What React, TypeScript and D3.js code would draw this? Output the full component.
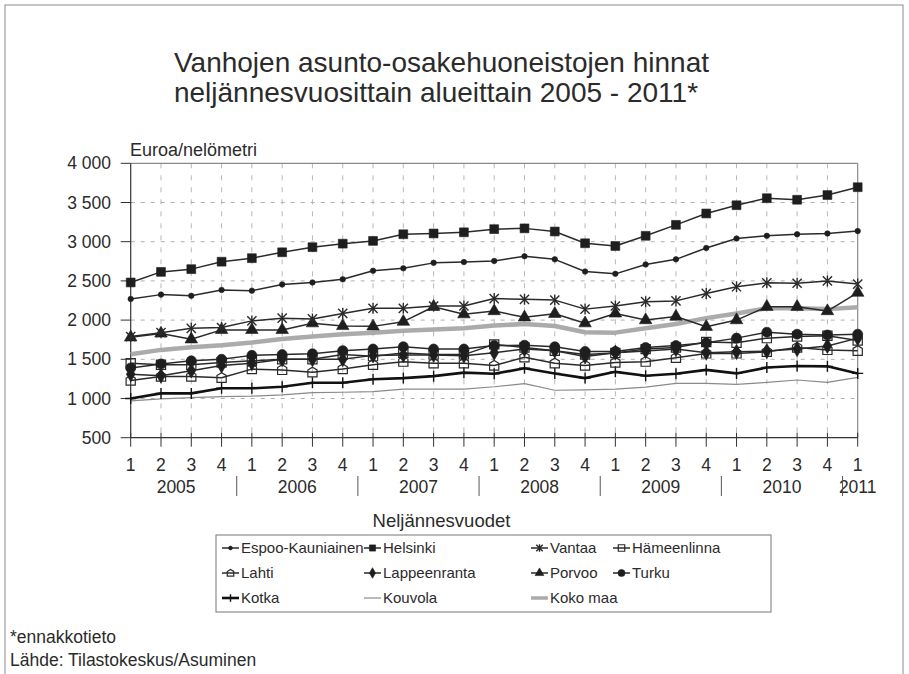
import React from "react";
import * as d3 from "d3";

// ---- data (euro / m², quarterly 2005Q1 .. 2011Q1) ----
const quarterLabels = ["1","2","3","4","1","2","3","4","1","2","3","4","1","2","3","4","1","2","3","4","1","2","3","4","1"];
const yearLabels = ["2005","2006","2007","2008","2009","2010","2011"];
const yTickValues = [500, 1000, 1500, 2000, 2500, 3000, 3500, 4000];

const espoo = [2270,2325,2310,2385,2375,2455,2480,2520,2630,2660,2730,2740,2755,2815,2775,2620,2590,2710,2775,2920,3040,3075,3095,3105,3135];
const helsinki = [2480,2615,2650,2745,2790,2865,2930,2975,3010,3095,3105,3120,3160,3170,3130,2980,2945,3075,3215,3360,3465,3555,3535,3595,3695];
const vantaa = [1790,1840,1895,1905,1990,2025,2015,2085,2150,2150,2180,2180,2275,2265,2255,2140,2180,2235,2245,2340,2425,2475,2470,2500,2460];
const hameenlinna = [1450,1430,1430,1460,1480,1500,1500,1560,1540,1580,1560,1560,1690,1650,1610,1560,1580,1630,1650,1720,1710,1770,1790,1800,1740];
const lahti = [1230,1280,1280,1265,1375,1365,1335,1375,1430,1470,1450,1450,1420,1525,1450,1420,1460,1470,1520,1575,1575,1595,1650,1620,1610];
const lappeenranta = [1310,1290,1355,1420,1450,1500,1500,1500,1550,1555,1555,1545,1585,1630,1610,1535,1585,1605,1630,1585,1595,1605,1630,1670,1770];
const porvoo = [1780,1830,1755,1875,1875,1875,1960,1925,1920,1980,2170,2075,2115,2035,2080,1960,2085,2000,2045,1915,2000,2170,2170,2115,2350];
const turku = [1390,1440,1480,1500,1550,1560,1570,1610,1630,1660,1630,1630,1675,1680,1660,1600,1600,1650,1675,1710,1770,1845,1820,1810,1820];
const kotka = [1000,1065,1065,1130,1130,1150,1200,1200,1245,1260,1285,1330,1315,1385,1320,1260,1340,1290,1315,1365,1320,1395,1415,1410,1320];
const kouvola = [970,995,1010,1025,1030,1045,1075,1080,1087,1120,1120,1120,1150,1190,1105,1110,1120,1145,1194,1194,1180,1205,1236,1205,1270];
const kokoMaa = [1565,1620,1655,1680,1715,1760,1790,1820,1840,1865,1880,1895,1930,1950,1925,1845,1840,1895,1950,2025,2085,2150,2150,2140,2165];

type Marker = "dot" | "square" | "star" | "openSquare" | "house" | "diamond" | "triangle" | "circle" | "plus" | "none";
interface Series { name: string; values: number[]; marker: Marker; stroke: string; width: number; }

const series: Series[] = [
  { name: "Espoo-Kauniainen", values: espoo, marker: "dot", stroke: "#2a2a2a", width: 1.5 },
  { name: "Helsinki", values: helsinki, marker: "square", stroke: "#2a2a2a", width: 1.5 },
  { name: "Vantaa", values: vantaa, marker: "star", stroke: "#2a2a2a", width: 1.5 },
  { name: "Hämeenlinna", values: hameenlinna, marker: "openSquare", stroke: "#2a2a2a", width: 1.5 },
  { name: "Lahti", values: lahti, marker: "house", stroke: "#2a2a2a", width: 1.5 },
  { name: "Lappeenranta", values: lappeenranta, marker: "diamond", stroke: "#2a2a2a", width: 1.5 },
  { name: "Porvoo", values: porvoo, marker: "triangle", stroke: "#2a2a2a", width: 1.5 },
  { name: "Turku", values: turku, marker: "circle", stroke: "#2a2a2a", width: 1.5 },
  { name: "Kotka", values: kotka, marker: "plus", stroke: "#111", width: 2.6 },
  { name: "Kouvola", values: kouvola, marker: "none", stroke: "#8a8a8a", width: 1.2 },
  { name: "Koko maa", values: kokoMaa, marker: "none", stroke: "#ababab", width: 4.5 },
];

const FONT = "'Liberation Sans', Arial, Helvetica, sans-serif";
const TEXT = "#2b2b2b";

const W = 909, H = 674;
const x = d3.scaleLinear().domain([0, 24]).range([130.7, 857.7]);
const y = d3.scaleLinear().domain([500, 4000]).range([437.7, 163.3]);
const fmt = d3.formatLocale({ thousands: " ", grouping: [3], decimal: ",", currency: ["", ""] }).format(",");

function markerPath(m: Marker, scale = 1): string | null {
  const s = scale;
  switch (m) {
    case "dot": return d3.symbol(d3.symbolCircle, 24 * s * s)();
    case "square": return d3.symbol(d3.symbolSquare, 78 * s * s)();
    case "openSquare": return d3.symbol(d3.symbolSquare, 85 * s * s)();
    case "diamond": return d3.symbol(d3.symbolDiamond, 66 * s * s)();
    case "triangle": return d3.symbol(d3.symbolTriangle, 68 * s * s)();
    case "circle": return d3.symbol(d3.symbolCircle, 80 * s * s)();
    case "star": {
      const r = 5.5 * s, d = 4.6 * s;
      return `M0,${-r}L0,${r}M${-d},${-d}L${d},${d}M${-d},${d}L${d},${-d}`;
    }
    case "house": {
      const a = 4.6 * s;
      return `M${-a},${-0.5 * a}L0,${-a * 1.1}L${a},${-0.5 * a}L${a},${a}L${-a},${a}Z`;
    }
    case "plus": {
      const r = 5.5 * s;
      return `M0,${-r}L0,${r}M${-r},0L${r},0`;
    }
    default: return null;
  }
}

function markerStyle(m: Marker, stroke: string) {
  if (m === "openSquare" || m === "house") return { fill: "none", stroke, strokeWidth: 1.2 };
  if (m === "star" || m === "plus") return { fill: "none", stroke, strokeWidth: 1.4 };
  return { fill: "#1e1e1e", stroke: "#1e1e1e", strokeWidth: 0.6 };
}

const line = d3.line<number>().x((_, i) => x(i)).y((v) => y(v));

export default function App() {
  const drawOrder = [10, 9, 8, 4, 3, 5, 7, 6, 2, 0, 1];
  const idx = d3.range(quarterLabels.length);
  const gridY = yTickValues.filter((v) => v > 500 && v < 4000);

  const legendCols = [222, 364, 531, 613];
  const legendRows = [548, 573, 598];

  return (
    <svg width={W} height={H} style={{ position: "absolute", left: 0, top: 0, display: "block", background: "#fff" }}
      fontFamily={FONT}>
      <rect x={5} y={5} width={898} height={700} fill="none" stroke="#8c8c8c" strokeWidth={1} />

      {/* title */}
      <text x={441.5} y={72} textAnchor="middle" fontSize={28} fill={TEXT}>Vanhojen asunto-osakehuoneistojen hinnat</text>
      <text x={436} y={102} textAnchor="middle" fontSize={28} fill={TEXT}>neljännesvuosittain alueittain 2005 - 2011*</text>

      {/* y axis title */}
      <text x={130} y={156} fontSize={18} fill={TEXT}>Euroa/nelömetri</text>

      {/* grid */}
      {gridY.map((v) => (
        <line key={"gy" + v} x1={x(0)} x2={x(24)} y1={y(v)} y2={y(v)} stroke="#b0b0b0" strokeWidth={1} strokeDasharray="4,6" />
      ))}
      {idx.slice(1, 24).map((i) => (
        <line key={"gx" + i} x1={x(i)} x2={x(i)} y1={y(4000)} y2={y(500)} stroke="#b8b8b8" strokeWidth={1} strokeDasharray="5,7" />
      ))}

      {/* plot frame */}
      <line x1={x(0)} x2={x(24)} y1={y(4000)} y2={y(4000)} stroke="#8a8a8a" strokeWidth={1.2} />
      <line x1={x(24)} x2={x(24)} y1={y(4000)} y2={y(500)} stroke="#8a8a8a" strokeWidth={1.2} />
      <line x1={x(0)} x2={x(0)} y1={y(4000)} y2={y(500)} stroke="#333" strokeWidth={1.2} />
      <line x1={x(0)} x2={x(24)} y1={y(500)} y2={y(500)} stroke="#333" strokeWidth={1.2} />

      {/* y ticks */}
      {yTickValues.map((v) => (
        <g key={"yt" + v}>
          <line x1={x(0) - 10} x2={x(0)} y1={y(v)} y2={y(v)} stroke="#333" strokeWidth={1} />
          <text x={111} y={y(v)} dy="0.35em" textAnchor="end" fontSize={17.5} fill={TEXT}>{fmt(v)}</text>
        </g>
      ))}

      {/* x ticks */}
      {idx.map((i) => (
        <g key={"xt" + i}>
          <line x1={x(i)} x2={x(i)} y1={y(500) - 5} y2={y(500) + 9} stroke="#333" strokeWidth={1} />
          <text x={x(i)} y={471} textAnchor="middle" fontSize={17.5} fill={TEXT}>{quarterLabels[i]}</text>
        </g>
      ))}
      {yearLabels.map((yr, k) => {
        const cx = k < 6 ? x(k * 4 + 1.5) : x(24);
        return <text key={yr} x={cx} y={493} textAnchor="middle" fontSize={17.5} fill={TEXT}>{yr}</text>;
      })}
      {d3.range(6).map((k) => (
        <line key={"sep" + k} x1={x(k * 4 + 3.5)} x2={x(k * 4 + 3.5)} y1={476} y2={496} stroke="#555" strokeWidth={1} />
      ))}

      <text x={441.5} y={527} textAnchor="middle" fontSize={18.5} fill={TEXT}>Neljännesvuodet</text>

      {/* series */}
      {drawOrder.map((si) => {
        const s = series[si];
        const mp = markerPath(s.marker);
        const ms = markerStyle(s.marker, s.stroke);
        return (
          <g key={s.name}>
            <path d={line(s.values) || ""} fill="none" stroke={s.stroke} strokeWidth={s.width} strokeLinejoin="round" />
            {mp && s.values.map((v, i) => (
              <path key={i} d={mp} transform={`translate(${x(i)},${y(v)})`} fill={ms.fill} stroke={ms.stroke} strokeWidth={ms.strokeWidth} />
            ))}
          </g>
        );
      })}

      {/* legend */}
      <rect x={216} y={535} width={555} height={77} fill="#fff" stroke="#777" strokeWidth={1} />
      {series.map((s, k) => {
        const col = k % 4, row = Math.floor(k / 4);
        const lx = legendCols[col], ly = legendRows[row];
        const mp = markerPath(s.marker, 0.7);
        const ms = markerStyle(s.marker, s.stroke);
        return (
          <g key={"lg" + s.name}>
            <line x1={lx} x2={lx + 17} y1={ly} y2={ly} stroke={s.stroke} strokeWidth={Math.min(s.width, 3.5)} />
            {mp && <path d={mp} transform={`translate(${lx + 8.5},${ly})`} fill={ms.fill} stroke={ms.stroke} strokeWidth={ms.strokeWidth} />}
            <text x={lx + 19} y={ly} dy="0.35em" fontSize={15} fill={TEXT}>{s.name}</text>
          </g>
        );
      })}

      {/* footnotes */}
      <text x={10} y={643} fontSize={17.5} fill={TEXT}>*ennakkotieto</text>
      <text x={10} y={666} fontSize={17.5} fill={TEXT}>Lähde: Tilastokeskus/Asuminen</text>
    </svg>
  );
}
